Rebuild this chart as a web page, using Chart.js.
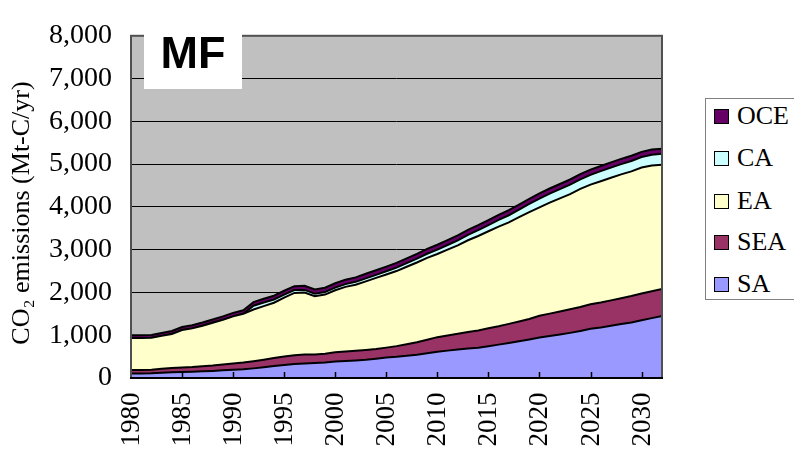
<!DOCTYPE html>
<html><head><meta charset="utf-8">
<script src="https://cdn.jsdelivr.net/npm/chart.js@4/dist/chart.umd.min.js"></script>
<style>
html,body{margin:0;padding:0;background:#fff;}
#wrap{position:relative;width:794px;height:454px;overflow:hidden;background:#fff;}
#c{position:absolute;left:0;top:0;}
#legend{position:absolute;left:705px;top:98px;width:100px;height:202px;border:1px solid #808080;box-sizing:border-box;background:#fff;font-family:"Liberation Serif","Times New Roman",serif;font-size:26px;color:#000;}
.item{position:absolute;left:8px;height:30px;line-height:30px;display:flex;align-items:center;white-space:nowrap;}
.sw{width:13px;height:13px;border:1.5px solid #000;margin-right:8px;flex:none;}
.xl{position:absolute;font-family:"Liberation Serif","Times New Roman",serif;font-size:27px;line-height:27px;color:#000;white-space:nowrap;transform-origin:100% 50%;transform:rotate(-90deg);}
</style></head>
<body>
<div id="wrap">
<canvas id="c" width="794" height="454"></canvas>
<div id="legend"></div>
</div>
<script>
const years = [];
for (let y = 1980; y <= 2032; y++) years.push(y);

const seriesNames = ['SA', 'SEA', 'EA', 'CA', 'OCE'];
const seriesColors = ['#9999FF', '#993366', '#FFFFCC', '#CCFFFF', '#660066'];

const SA = [105,105,110,125,135,140,145,155,165,180,195,205,225,250,280,305,325,340,350,360,
  385,400,410,425,450,480,495,520,545,580,615,640,665,690,705,740,780,820,860,900,
  945,980,1015,1055,1100,1150,1180,1220,1260,1300,1350,1400,1450];
const SEA = [80,82,85,90,100,108,112,118,125,135,145,155,165,175,185,195,205,210,200,205,
  215,220,225,230,228,230,250,270,290,315,340,355,370,385,405,425,430,445,460,480,
  510,525,540,550,560,575,585,595,605,615,625,628,630];
const EA = [750,748,745,770,795,872,903,947,1000,1045,1100,1140,1210,1255,1295,1380,1460,1450,1360,1385,
  1450,1510,1545,1605,1662,1710,1755,1810,1865,1915,1945,2005,2065,2145,2210,2265,2330,2375,2440,2500,
  2535,2595,2645,2695,2760,2795,2835,2865,2895,2915,2945,2942,2905];
const CA = [0,0,0,0,0,0,0,0,0,0,0,0,90,85,75,70,65,60,60,60,
  62,65,68,70,72,75,80,85,90,95,100,110,118,125,135,145,155,165,175,190,
  205,210,215,220,225,230,235,238,240,243,245,250,255];
const OCE = [65,66,68,68,70,72,74,76,78,80,82,82,84,86,88,90,92,95,98,100,
  102,104,105,106,108,110,111,112,113,114,115,115,116,116,117,117,118,118,119,119,
  120,120,121,121,120,121,122,122,122,122,122,121,120];
const seriesData = [SA, SEA, EA, CA, OCE];

const yTickValues = [0,1000,2000,3000,4000,5000,6000,7000,8000];
const xLabelStep = 5;
const yTitle = 'CO\u2082 emissions (Mt-C/yr)';
const panelLabel = 'MF';

const serif = '"Liberation Serif","Times New Roman",serif';

const datasets = seriesNames.map((n, i) => ({
  label: n,
  data: seriesData[i],
  backgroundColor: seriesColors[i],
  borderColor: '#000',
  borderWidth: 2,
  fill: i === 0 ? 'origin' : '-1',
  pointRadius: 0,
  tension: 0
}));

const decor = {
  id: 'decor',
  beforeDraw(chart) {
    const a = chart.chartArea, ctx = chart.ctx;
    ctx.save();
    ctx.fillStyle = '#C0C0C0';
    ctx.fillRect(a.left, a.top, a.right - a.left, a.bottom - a.top);
    ctx.restore();
  },
  afterDatasetsDraw(chart) {
    const a = chart.chartArea, ctx = chart.ctx, xs = chart.scales.x;
    ctx.save();
    ctx.strokeStyle = '#505050';
    ctx.lineWidth = 2;
    ctx.strokeRect(a.left, a.top, a.right - a.left, a.bottom - a.top);
    ctx.strokeStyle = '#000';
    ctx.beginPath();
    ctx.moveTo(a.left - 1, a.bottom); ctx.lineTo(a.right + 1, a.bottom);
    ctx.stroke();
    ctx.lineWidth = 1.5;
    years.forEach((y, i) => {
      if (y % xLabelStep === 0 && i > 0) {
        const x = Math.round(xs.getPixelForValue(i)) + 0.5;
        ctx.beginPath(); ctx.moveTo(x, a.bottom); ctx.lineTo(x, a.bottom - 6); ctx.stroke();
      }
    });
    ctx.fillStyle = '#fff';
    ctx.fillRect(144, 20, 98, 69);
    ctx.fillStyle = '#000';
    ctx.font = 'bold 45px "Liberation Sans", Arial, sans-serif';
    ctx.textAlign = 'center';
    ctx.textBaseline = 'middle';
    ctx.fillText(panelLabel, 193, 56);
    ctx.setTransform(0, -1, 1, 0, 22, 213);
    ctx.font = '26px ' + serif;
    ctx.fillText(yTitle, 0, 0);
    ctx.restore();
  }
};

const chart = new Chart(document.getElementById('c'), {
  type: 'line',
  data: { labels: years.map(String), datasets },
  options: {
    responsive: false,
    animation: false,
    layout: { padding: { left: 0, top: 17, right: 132, bottom: 0 } },
    plugins: { legend: { display: false }, tooltip: { enabled: false } },
    scales: {
      x: {
        type: 'category',
        offset: false,
        grid: { display: false, drawTicks: false },
        border: { display: false },
        ticks: { display: false },
        afterFit: s => { s.height = 76; }
      },
      y: {
        stacked: true,
        min: 0, max: 8000,
        afterBuildTicks: s => { s.ticks = yTickValues.map(v => ({ value: v })); },
        ticks: {
          padding: 19, color: '#000',
          font: { family: serif, size: 28 },
          callback: v => Number(v).toLocaleString('en-US')
        },
        grid: { color: '#000', lineWidth: 1, drawTicks: false },
        border: { display: false },
        title: { display: false },
        afterFit: s => { s.width = 131; }
      }
    }
  },
  plugins: [decor]
});

// rotated x-axis labels as HTML text positioned with the chart's own x scale
const wrap = document.getElementById('wrap');
const xs = chart.scales.x;
const bottom = chart.chartArea.bottom;
years.forEach((y, i) => {
  if (y % xLabelStep !== 0) return;
  const el = document.createElement('div');
  el.className = 'xl';
  el.textContent = String(y);
  wrap.appendChild(el);
  const w = el.offsetWidth;
  const x = xs.getPixelForValue(i);
  // right end of the text sits at (x, bottom+14) after rotation
  el.style.left = (x - w - 1) + 'px';
  el.style.top = (bottom + 14 - 13.5) + 'px';
});

const lg = document.getElementById('legend');
const tops = [2, 44, 87, 128, 170];
seriesNames.slice().reverse().forEach((n, k) => {
  const i = seriesNames.length - 1 - k;
  const d = document.createElement('div');
  d.className = 'item';
  d.style.top = tops[k] + 'px';
  const sw = document.createElement('span');
  sw.className = 'sw';
  sw.style.background = seriesColors[i];
  const t = document.createElement('span');
  t.textContent = n;
  d.appendChild(sw); d.appendChild(t);
  lg.appendChild(d);
});
</script>
</body></html>
